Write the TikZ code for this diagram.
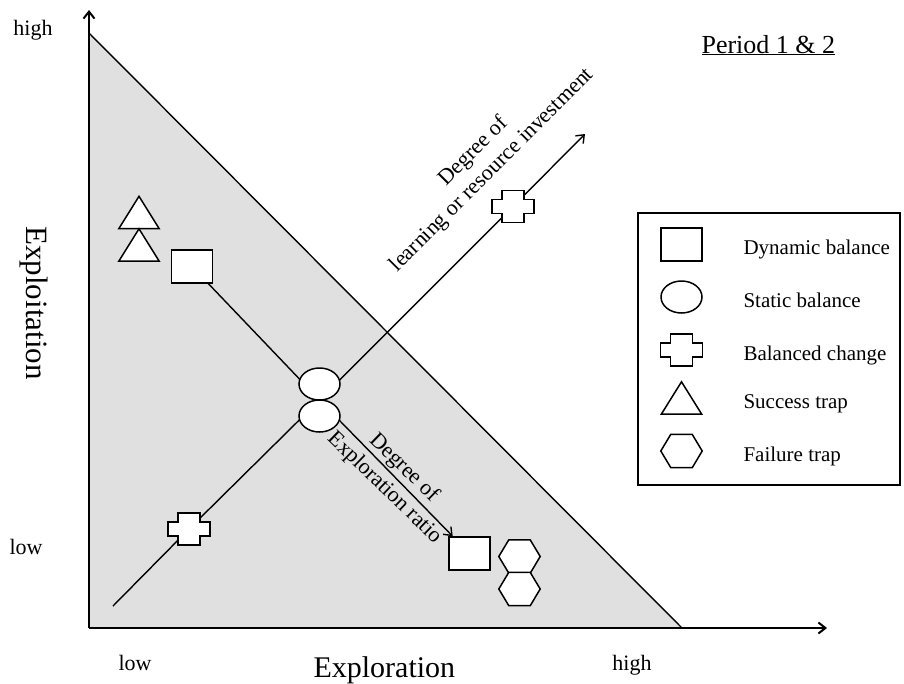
\documentclass[tikz,border=0pt]{standalone}
\usepackage{fontspec}
\setmainfont{Liberation Serif}
\usetikzlibrary{shapes.geometric,arrows.meta,backgrounds}

\tikzset{
  shp/.style={draw, line width=1.5pt, fill=white},
  conn/.style={line width=1.4pt},
  axis/.style={line width=2pt},
  dynbal/.style={shp, rectangle, inner sep=0pt, minimum width=41pt, minimum height=33pt},
  statbal/.style={shp, ellipse, inner sep=0pt, minimum width=41pt, minimum height=32pt},
  balchange/.style={rectangle, inner sep=0pt, minimum width=42pt, minimum height=32pt,
    append after command={\pgfextra{\let\cnode\tikzlastnode
      \draw[shp] ([xshift=10pt]\cnode.north west) -- ++(22pt,0pt) -- ++(0pt,-9pt)
        -- ++(10pt,0pt) -- ++(0pt,-14pt) -- ++(-10pt,0pt) -- ++(0pt,-9pt)
        -- ++(-22pt,0pt) -- ++(0pt,9pt) -- ++(-10pt,0pt) -- ++(0pt,14pt)
        -- ++(10pt,0pt) -- cycle;}}},
  succtrap/.style={rectangle, inner sep=0pt, minimum width=40pt, minimum height=32pt,
    append after command={\pgfextra{\let\cnode\tikzlastnode
      \draw[shp] (\cnode.north) -- (\cnode.south east) -- (\cnode.south west) -- cycle;}}},
  failtrap/.style={rectangle, inner sep=0pt, minimum width=41pt, minimum height=33pt,
    append after command={\pgfextra{\let\cnode\tikzlastnode
      \draw[shp] ([xshift=10pt]\cnode.north west) -- ([xshift=-10pt]\cnode.north east)
        -- (\cnode.east) -- ([xshift=-10pt]\cnode.south east)
        -- ([xshift=10pt]\cnode.south west) -- (\cnode.west) -- cycle;}}},
}

\begin{document}
\begin{tikzpicture}[x=1pt, y=-1pt, >={Straight Barb[length=7pt,width=11pt]},
    every node/.style={font=\fontsize{22}{26}\selectfont}]

      \useasboundingbox (0,0) rectangle (904,683);

      \coordinate (o)    at (89,628);
      \coordinate (ytop) at (89,10);
      \coordinate (xend) at (827,628);
      \coordinate (apex) at (89,33);
      \coordinate (foot) at (682,628);

      \begin{scope}[on background layer]
        \fill[gray!24] (apex) -- (o) -- (foot) -- cycle;
        \draw[conn] (apex) -- (foot);
      \end{scope}

      \draw[axis,->] (o) -- (ytop);
      \draw[axis,->] (o) -- (xend);

      \node[dynbal]    (sqA)  at (192,266.5) {};
      \node[dynbal]    (sqB)  at (469.5,553.5) {};
      \node[statbal]   (ovUp) at (319.5,384) {};
      \node[statbal]   (ovLo) at (319.5,416) {};
      \node[balchange] (crB)  at (189,529) {};
      \node[balchange] (crT)  at (513,206.5) {};
      \node[succtrap]  (stA)  at (139,212.5) {};
      \node[succtrap]  (stB)  at (139,245) {};
      \node[failtrap]  (ftA)  at (519.5,556.5) {};
      \node[failtrap]  (ftB)  at (519.5,589) {};

      \coordinate (mid)   at (319.5,400);
      \coordinate (lb0)   at (113,606);
      \coordinate (lbtip) at (585,134);

      \begin{scope}[on background layer]
        \draw[conn] (sqA.center) -- (mid);
        \draw[conn,->] (mid) -- (sqB);
        \draw[conn] (lb0) -- (crB.center) -- (mid) -- (crT.center);
        \draw[conn,->] (crT.center) -- (lbtip);
      \end{scope}

      \node[anchor=base] (hiY) at (33,35)  {high};
      \node[anchor=base] (loY) at (26,554) {low};
      \node[anchor=base] (loX) at (135,670) {low};
      \node[anchor=base] (hiX) at (632,670) {high};
      \node[anchor=base west, font=\fontsize{30}{36}\selectfont] (xlab) at (310,677) {Exploration};
      \node[rotate=-90, font=\fontsize{31}{36}\selectfont] (ylab) at (34,303) {Exploitation};
      \node[anchor=base west, font=\fontsize{26}{30}\selectfont] (period) at (698,53) {\underline{Period 1 \& 2}};

      \node[rotate=45, align=center] (invlab) at (483,161) {Degree of\\learning or resource investment};
      \node[rotate=-44, align=center, font=\fontsize{22}{28}\selectfont] (ratlab) at (394,478) {Degree of\\Exploration ratio};

      \draw[conn] (638,213) rectangle (900,485);
      \foreach \y/\sty/\txt in {244.5/dynbal/Dynamic balance, 297/statbal/Static balance,
          350/balchange/Balanced change, 398/succtrap/Success trap, 451/failtrap/Failure trap}
      {
        \node[\sty] (key-\sty) at (681.5,\y) {};
        \node[anchor=base west, font=\fontsize{21}{25}\selectfont] (txt-\sty) at (740,\y+10) {\txt};
      }

    \end{tikzpicture}
\end{document}
